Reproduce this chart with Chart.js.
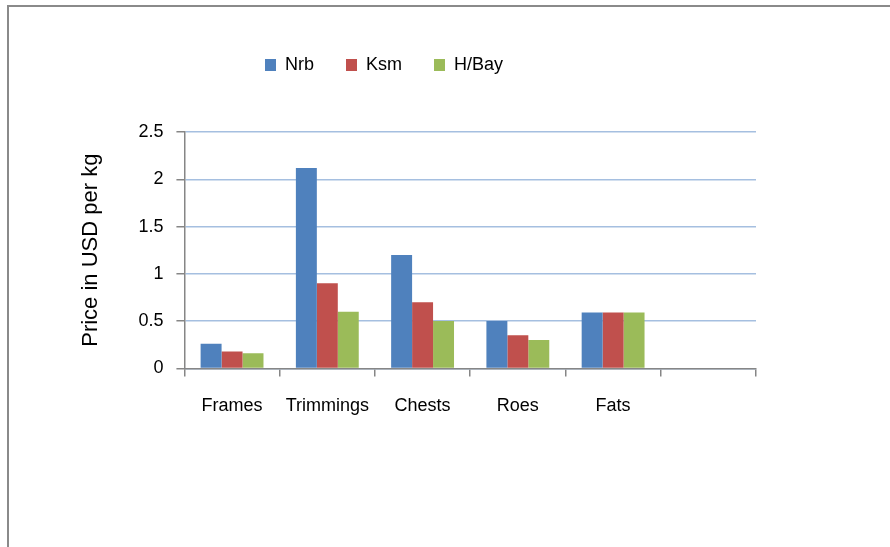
<!DOCTYPE html>
<html>
<head>
<meta charset="utf-8">
<script src="https://cdn.jsdelivr.net/npm/chart.js@4.4.1/dist/chart.umd.min.js"></script>
<style>
    html, body { margin: 0; padding: 0; background: #fff; }
    #wrap { position: absolute; left: 0; top: 0; width: 890px; height: 547px; }
    #frame {
        position: absolute; left: 7px; top: 5px; right: -10px; bottom: -10px;
        border-top: 2px solid #8a8a8a; border-left: 2px solid #8a8a8a;
    }
</style>
</head>
<body>
<div id="frame"></div>
<div id="wrap"><canvas id="priceChart"></canvas></div>
<script>
const categories = ["Frames", "Trimmings", "Chests", "Roes", "Fats", ""];
const nrb  = [0.26, 2.12, 1.2, 0.5, 0.59, null];
const ksm  = [0.18, 0.9, 0.7, 0.35, 0.59, null];
const hbay = [0.16, 0.6, 0.5, 0.3, 0.59, null];

const FONT = "'Liberation Sans', Arial, sans-serif";
const AXIS_GREY = "#868686";
const GRID_BLUE = "#a5bfe0";

// legend sits left of centre and leaves a gap above the plot
const legendPlacement = {
    id: "legendPlacement",
    beforeInit(chart) {
        const fit = chart.legend.fit;
        chart.legend.fit = function () {
            fit.bind(chart.legend)();
            this.height += 48;
        };
    },
    afterLayout(chart) {
        chart.legend.left = 233;
    }
};

new Chart(document.getElementById("priceChart"), {
    type: "bar",
    data: {
        labels: categories,
        datasets: [
            { label: "Nrb",   data: nrb,  backgroundColor: "#4f81bd" },
            { label: "Ksm",   data: ksm,  backgroundColor: "#c0504d" },
            { label: "H/Bay", data: hbay, backgroundColor: "#9bbb59" }
        ]
    },
    options: {
        responsive: true,
        maintainAspectRatio: false,
        animation: false,
        datasets: {
            bar: { categoryPercentage: 0.66, barPercentage: 1.0 }
        },
        layout: {
            padding: { left: 74, right: 134, top: 24, bottom: 111 }
        },
        scales: {
            x: {
                grid: {
                    drawOnChartArea: false,
                    drawTicks: true,
                    tickLength: 8,
                    tickColor: AXIS_GREY,
                    lineWidth: 1.5
                },
                border: { color: AXIS_GREY, width: 1.5 },
                ticks: {
                    color: "#000",
                    padding: 19,
                    maxRotation: 0,
                    autoSkip: false,
                    font: { family: FONT, size: 18 }
                }
            },
            y: {
                min: 0,
                max: 2.5,
                ticks: {
                    stepSize: 0.5,
                    color: "#000",
                    padding: 13,
                    font: { family: FONT, size: 18 },
                    callback: value => String(value)
                },
                grid: {
                    color: GRID_BLUE,
                    lineWidth: 1.5,
                    tickColor: AXIS_GREY,
                    tickLength: 8
                },
                border: { color: AXIS_GREY, width: 1.5 },
                title: {
                    display: true,
                    text: "Price in USD per kg",
                    color: "#000",
                    padding: { top: 4, bottom: 21 },
                    font: { family: FONT, size: 22 }
                }
            }
        },
        plugins: {
            legend: {
                display: true,
                position: "top",
                align: "start",
                labels: {
                    boxWidth: 11,
                    boxHeight: 12,
                    padding: 32,
                    color: "#000",
                    font: { family: FONT, size: 18 }
                }
            },
            tooltip: { enabled: false }
        }
    },
    plugins: [legendPlacement]
});
</script>
</body>
</html>
